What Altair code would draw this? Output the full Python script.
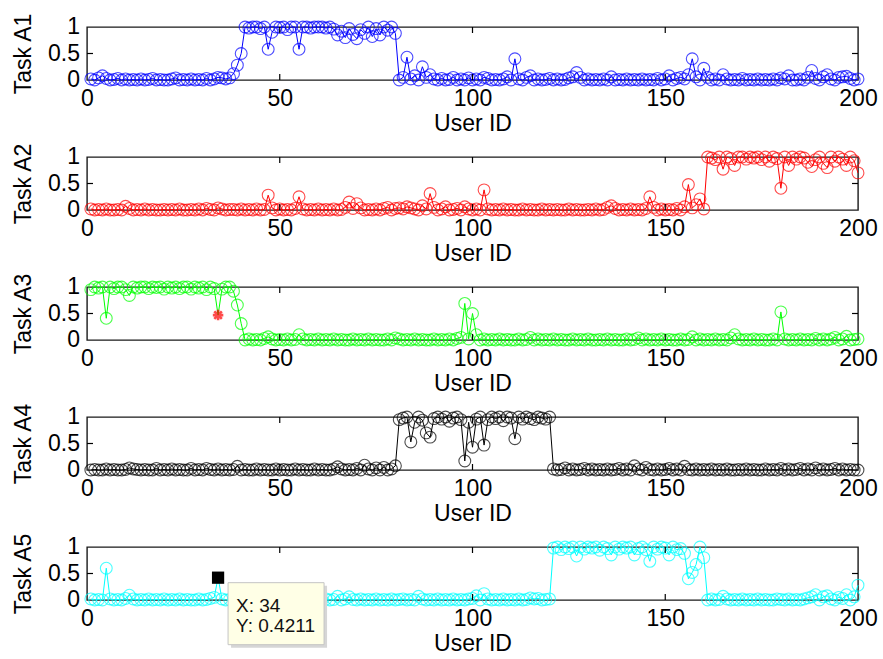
import altair as alt
import pandas as pd

# User IDs shared by all five task panels
user_ids = list(range(1, 201))

x_ticks = [0, 50, 100, 150, 200]
y_ticks = [0, 0.5, 1]

task_a1 = [
    0.02, 0.00, 0.04, 0.08, 0.03, 0.00, 0.01, 0.03, 0.00, 0.02, 0.00, 0.01, 0.00, 0.02, 0.00, 0.01, 0.03, 0.00, 0.01, 0.00,
    0.00, 0.02, 0.04, 0.00, 0.01, 0.00, 0.02, 0.00, 0.01, 0.00, 0.03, 0.00, 0.02, 0.05, 0.04, 0.02, 0.04, 0.12, 0.28, 0.50,
    1.00, 0.98, 1.00, 1.00, 0.97, 1.00, 0.58, 0.90, 1.00, 0.99, 1.00, 0.95, 1.00, 1.00, 0.58, 1.00, 1.00, 0.98, 1.00, 1.00,
    1.00, 0.98, 1.00, 0.96, 0.85, 0.92, 0.80, 0.97, 0.86, 0.78, 0.95, 0.88, 1.00, 0.82, 0.97, 0.85, 1.00, 0.94, 1.00, 0.88,
    0.00, 0.05, 0.43, 0.02, 0.08, 0.00, 0.25, 0.05, 0.10, 0.02, 0.00, 0.03, 0.00, 0.01, 0.05, 0.00, 0.02, 0.00, 0.04, 0.00,
    0.02, 0.00, 0.05, 0.03, 0.00, 0.01, 0.00, 0.02, 0.06, 0.00, 0.40, 0.02, 0.00, 0.05, 0.08, 0.00, 0.02, 0.00, 0.01, 0.03,
    0.00, 0.02, 0.00, 0.01, 0.04, 0.06, 0.14, 0.05, 0.00, 0.02, 0.00, 0.01, 0.00, 0.02, 0.00, 0.06, 0.00, 0.01, 0.00, 0.02,
    0.00, 0.01, 0.00, 0.02, 0.00, 0.01, 0.00, 0.03, 0.00, 0.02, 0.08, 0.00, 0.03, 0.05, 0.02, 0.10, 0.40, 0.06, 0.00, 0.22,
    0.05, 0.00, 0.02, 0.00, 0.10, 0.02, 0.00, 0.01, 0.00, 0.03, 0.00, 0.01, 0.00, 0.02, 0.00, 0.01, 0.00, 0.02, 0.00, 0.04,
    0.02, 0.08, 0.00, 0.00, 0.02, 0.00, 0.05, 0.18, 0.03, 0.00, 0.06, 0.10, 0.02, 0.00, 0.05, 0.06, 0.07, 0.03, 0.00, 0.02,
]

task_a2 = [
    0.02, 0.00, 0.01, 0.00, 0.02, 0.00, 0.00, 0.01, 0.00, 0.07, 0.03, 0.00, 0.01, 0.00, 0.02, 0.00, 0.01, 0.00, 0.00, 0.01,
    0.00, 0.01, 0.00, 0.02, 0.00, 0.00, 0.01, 0.00, 0.02, 0.00, 0.03, 0.01, 0.00, 0.04, 0.02, 0.00, 0.01, 0.01, 0.00, 0.02,
    0.00, 0.01, 0.00, 0.02, 0.00, 0.01, 0.28, 0.04, 0.00, 0.02, 0.00, 0.01, 0.00, 0.03, 0.25, 0.02, 0.00, 0.01, 0.00, 0.02,
    0.00, 0.01, 0.00, 0.02, 0.00, 0.01, 0.05, 0.15, 0.03, 0.12, 0.04, 0.00, 0.01, 0.00, 0.02, 0.00, 0.03, 0.05, 0.00, 0.03,
    0.04, 0.02, 0.06, 0.04, 0.02, 0.00, 0.08, 0.02, 0.31, 0.05, 0.00, 0.02, 0.06, 0.00, 0.01, 0.03, 0.00, 0.06, 0.02, 0.00,
    0.02, 0.00, 0.38, 0.02, 0.00, 0.01, 0.00, 0.02, 0.00, 0.01, 0.00, 0.00, 0.02, 0.00, 0.01, 0.00, 0.00, 0.02, 0.00, 0.01,
    0.00, 0.01, 0.00, 0.00, 0.02, 0.00, 0.01, 0.00, 0.00, 0.01, 0.00, 0.02, 0.00, 0.01, 0.05, 0.08, 0.03, 0.00, 0.01, 0.00,
    0.02, 0.00, 0.01, 0.00, 0.03, 0.25, 0.05, 0.00, 0.02, 0.00, 0.01, 0.00, 0.03, 0.00, 0.06, 0.48, 0.04, 0.10, 0.21, 0.02,
    1.00, 0.98, 0.95, 1.00, 0.77, 1.00, 0.97, 0.84, 1.00, 1.00, 0.96, 1.00, 0.98, 1.00, 0.95, 1.00, 0.92, 1.00, 0.97, 0.41,
    1.00, 0.84, 1.00, 0.96, 1.00, 0.98, 0.90, 0.82, 0.95, 1.00, 0.88, 0.80, 1.00, 0.92, 1.00, 0.96, 0.84, 1.00, 0.93, 0.70,
]

task_a3 = [
    0.95, 1.00, 0.98, 1.00, 0.41, 1.00, 0.97, 1.00, 1.00, 0.95, 0.84, 1.00, 0.98, 1.00, 1.00, 0.97, 1.00, 0.99, 1.00, 0.96,
    1.00, 0.98, 1.00, 0.97, 1.00, 1.00, 0.96, 1.00, 0.98, 1.00, 0.95, 1.00, 0.97, 0.47, 0.96, 1.00, 1.00, 0.92, 0.66, 0.31,
    0.00, 0.02, 0.00, 0.01, 0.00, 0.03, 0.06, 0.02, 0.00, 0.01, 0.00, 0.02, 0.00, 0.01, 0.10, 0.02, 0.00, 0.01, 0.00, 0.02,
    0.00, 0.01, 0.00, 0.02, 0.00, 0.01, 0.00, 0.00, 0.02, 0.00, 0.01, 0.00, 0.02, 0.00, 0.01, 0.00, 0.00, 0.02, 0.00, 0.04,
    0.02, 0.00, 0.01, 0.00, 0.02, 0.00, 0.01, 0.00, 0.00, 0.02, 0.00, 0.01, 0.00, 0.02, 0.00, 0.03, 0.05, 0.69, 0.02, 0.50,
    0.10, 0.00, 0.02, 0.00, 0.01, 0.00, 0.02, 0.00, 0.01, 0.00, 0.00, 0.02, 0.00, 0.01, 0.05, 0.00, 0.02, 0.00, 0.01, 0.00,
    0.02, 0.00, 0.01, 0.00, 0.00, 0.02, 0.00, 0.01, 0.00, 0.02, 0.00, 0.00, 0.01, 0.00, 0.02, 0.00, 0.01, 0.00, 0.00, 0.02,
    0.00, 0.01, 0.04, 0.00, 0.02, 0.00, 0.01, 0.00, 0.02, 0.00, 0.01, 0.00, 0.00, 0.02, 0.00, 0.01, 0.06, 0.00, 0.02, 0.00,
    0.01, 0.00, 0.02, 0.00, 0.01, 0.00, 0.04, 0.10, 0.02, 0.00, 0.01, 0.00, 0.02, 0.00, 0.01, 0.00, 0.00, 0.02, 0.00, 0.53,
    0.02, 0.00, 0.01, 0.00, 0.02, 0.00, 0.01, 0.00, 0.03, 0.00, 0.02, 0.00, 0.02, 0.05, 0.00, 0.02, 0.07, 0.00, 0.01, 0.02,
]

task_a4 = [
    0.00, 0.01, 0.00, 0.00, 0.02, 0.00, 0.01, 0.00, 0.00, 0.01, 0.04, 0.02, 0.01, 0.00, 0.01, 0.00, 0.00, 0.03, 0.00, 0.01,
    0.00, 0.02, 0.00, 0.01, 0.00, 0.00, 0.03, 0.00, 0.01, 0.00, 0.03, 0.01, 0.00, 0.02, 0.00, 0.01, 0.00, 0.01, 0.07, 0.00,
    0.01, 0.00, 0.00, 0.02, 0.00, 0.01, 0.00, 0.00, 0.02, 0.00, 0.01, 0.00, 0.00, 0.02, 0.00, 0.01, 0.00, 0.00, 0.02, 0.00,
    0.01, 0.00, 0.00, 0.02, 0.06, 0.02, 0.00, 0.01, 0.00, 0.03, 0.00, 0.09, 0.02, 0.00, 0.04, 0.00, 0.05, 0.00, 0.02, 0.08,
    0.95, 0.98, 1.00, 0.53, 0.90, 1.00, 0.94, 0.70, 0.62, 0.97, 1.00, 0.96, 1.00, 0.92, 0.98, 1.00, 0.95, 0.17, 0.90, 0.43,
    0.96, 1.00, 0.47, 0.95, 1.00, 0.97, 1.00, 0.93, 1.00, 0.98, 0.59, 1.00, 0.96, 1.00, 0.97, 0.95, 1.00, 0.98, 0.96, 1.00,
    0.02, 0.00, 0.01, 0.04, 0.00, 0.02, 0.00, 0.01, 0.03, 0.00, 0.02, 0.00, 0.01, 0.00, 0.02, 0.00, 0.01, 0.03, 0.00, 0.02,
    0.00, 0.08, 0.02, 0.00, 0.05, 0.01, 0.00, 0.02, 0.00, 0.01, 0.03, 0.00, 0.02, 0.00, 0.07, 0.01, 0.00, 0.02, 0.00, 0.01,
    0.00, 0.02, 0.00, 0.01, 0.00, 0.02, 0.00, 0.00, 0.01, 0.00, 0.02, 0.00, 0.01, 0.00, 0.00, 0.02, 0.00, 0.01, 0.00, 0.03,
    0.00, 0.02, 0.00, 0.01, 0.03, 0.00, 0.02, 0.00, 0.04, 0.00, 0.02, 0.00, 0.01, 0.03, 0.00, 0.02, 0.00, 0.01, 0.00, 0.00,
]

task_a5 = [
    0.02, 0.00, 0.01, 0.00, 0.60, 0.02, 0.00, 0.01, 0.00, 0.03, 0.09, 0.02, 0.00, 0.01, 0.00, 0.02, 0.00, 0.01, 0.00, 0.02,
    0.00, 0.01, 0.00, 0.02, 0.00, 0.01, 0.00, 0.00, 0.02, 0.00, 0.01, 0.03, 0.05, 0.4211, 0.02, 0.00, 0.01, 0.04, 0.00, 0.20,
    0.02, 0.00, 0.01, 0.00, 0.02, 0.00, 0.01, 0.00, 0.00, 0.02, 0.00, 0.01, 0.00, 0.02, 0.00, 0.01, 0.00, 0.02, 0.00, 0.01,
    0.00, 0.02, 0.00, 0.01, 0.07, 0.00, 0.02, 0.06, 0.01, 0.00, 0.02, 0.00, 0.01, 0.00, 0.02, 0.00, 0.01, 0.00, 0.02, 0.00,
    0.01, 0.02, 0.00, 0.01, 0.00, 0.07, 0.02, 0.00, 0.01, 0.00, 0.02, 0.00, 0.01, 0.00, 0.02, 0.00, 0.01, 0.00, 0.02, 0.03,
    0.08, 0.00, 0.12, 0.02, 0.00, 0.01, 0.00, 0.02, 0.00, 0.01, 0.00, 0.02, 0.00, 0.01, 0.04, 0.02, 0.03, 0.00, 0.01, 0.02,
    0.98, 1.00, 0.95, 1.00, 0.97, 1.00, 0.83, 1.00, 0.96, 1.00, 0.98, 1.00, 0.94, 1.00, 0.97, 0.85, 1.00, 0.96, 1.00, 0.98,
    1.00, 0.85, 0.97, 1.00, 0.95, 0.73, 1.00, 0.96, 1.00, 0.98, 0.85, 1.00, 0.95, 0.97, 0.88, 0.40, 0.52, 0.67, 1.00, 0.80,
    0.00, 0.02, 0.00, 0.01, 0.07, 0.02, 0.00, 0.01, 0.00, 0.02, 0.00, 0.01, 0.00, 0.02, 0.00, 0.01, 0.00, 0.00, 0.02, 0.01,
    0.00, 0.02, 0.00, 0.01, 0.00, 0.02, 0.04, 0.06, 0.10, 0.00, 0.06, 0.08, 0.02, 0.00, 0.05, 0.03, 0.10, 0.00, 0.06, 0.28,
]

task_titles = ["Task A1", "Task A2", "Task A3", "Task A4", "Task A5"]
task_colors = ["#0000FF", "#FF0000", "#00FF00", "#000000", "#00FFFF"]
task_values = [task_a1, task_a2, task_a3, task_a4, task_a5]

# Highlighted points: red asterisk on Task A3, data tip on Task A5
star_user, star_score = 34, 0.47
tip_user, tip_score = 34, 0.4211

W, H = 771, 53
FONT = "Liberation Sans"
FS = 23
ASTERISK = "M-1,0L1,0M0,-1L0,1M-0.72,-0.72L0.72,0.72M-0.72,0.72L0.72,-0.72"


def panel(idx):
    df = pd.DataFrame({"user": user_ids, "score": task_values[idx]})
    color = task_colors[idx]
    xenc = alt.X(
        "user:Q",
        scale=alt.Scale(domain=[0, 200], nice=False, zero=False),
        axis=alt.Axis(
            values=x_ticks, title="User ID", ticks=False, domain=False, grid=False,
            labelFlush=False, labelPadding=7, titlePadding=2, format="d",
        ),
    )
    # y tick labels are drawn as a text layer so that all three stay visible
    yenc = alt.Y(
        "score:Q",
        scale=alt.Scale(domain=[0, 1], nice=False, zero=False),
        axis=alt.Axis(
            title=task_titles[idx], labels=False, ticks=False, domain=False, grid=False,
            titlePadding=52,
        ),
    )
    base = alt.Chart(df)
    line = base.mark_line(color=color, strokeWidth=1, clip=False).encode(x=xenc, y=yenc)

    pts_src = base
    if idx == 2:
        pts_src = base.transform_filter(alt.datum.user != star_user)
    if idx == 4:
        pts_src = base.transform_filter(alt.datum.user != tip_user)
    pts = pts_src.mark_point(
        shape="circle", filled=False, size=140, strokeWidth=1.1, color=color, clip=False
    ).encode(x="user:Q", y="score:Q")

    ylab = alt.Chart(pd.DataFrame({"score": y_ticks})).mark_text(
        align="right", baseline="middle", dx=-7, font=FONT, fontSize=FS, color="#000000"
    ).encode(x=alt.value(0), y="score:Q", text=alt.Text("score:Q", format="~g"))

    # inward tick marks on all four sides
    xt = pd.DataFrame({"user": x_ticks[1:-1]})
    yt = pd.DataFrame({"score": [0.5]})
    rule = dict(color="black", strokeWidth=1.2)
    tb = alt.Chart(xt).mark_rule(**rule).encode(
        x="user:Q", y=alt.value(H), y2=alt.value(H - 6))
    tt = alt.Chart(xt).mark_rule(**rule).encode(
        x="user:Q", y=alt.value(0), y2=alt.value(6))
    tl = alt.Chart(yt).mark_rule(**rule).encode(
        y="score:Q", x=alt.value(0), x2=alt.value(6))
    tr = alt.Chart(yt).mark_rule(**rule).encode(
        y="score:Q", x=alt.value(W), x2=alt.value(W - 6))

    layers = [line, pts, ylab, tb, tt, tl, tr]

    if idx == 2:
        sdf = pd.DataFrame({"user": [star_user], "score": [star_score]})
        layers.append(
            alt.Chart(sdf).mark_point(
                shape=ASTERISK, size=110, stroke="#FF0000", strokeWidth=2.6, filled=False
            ).encode(x="user:Q", y="score:Q")
        )
    if idx == 4:
        tdf = pd.DataFrame({"user": [tip_user], "score": [tip_score]})
        tip = alt.Chart(tdf).transform_calculate(
            lx="'X: ' + datum.user", ly="'Y: ' + format(datum.score, '.4f')"
        )
        shadow = tip.mark_rect(
            fill="#D6D6D6", xOffset=13, x2Offset=109, yOffset=8, y2Offset=70
        ).encode(x="user:Q", x2="user:Q", y="score:Q", y2="score:Q")
        box = tip.mark_rect(
            fill="#FFFFE6", stroke="#C4C4C4", strokeWidth=1,
            xOffset=10, x2Offset=106, yOffset=5, y2Offset=67,
        ).encode(x="user:Q", x2="user:Q", y="score:Q", y2="score:Q")
        marker = tip.mark_square(size=150, color="#000000", opacity=1).encode(
            x="user:Q", y="score:Q")
        tx = tip.mark_text(
            align="left", baseline="alphabetic", dx=18, dy=34, font=FONT, fontSize=19, color="#111111"
        ).encode(x="user:Q", y="score:Q", text="lx:N")
        ty = tip.mark_text(
            align="left", baseline="alphabetic", dx=18, dy=54, font=FONT, fontSize=19, color="#111111"
        ).encode(x="user:Q", y="score:Q", text="ly:N")
        layers += [shadow, box, marker, tx, ty]

    return alt.layer(*layers).properties(width=W, height=H)


chart = alt.vconcat(*[panel(i) for i in range(5)], spacing=77, bounds="flush").properties(
    padding={"top": 11, "left": 11, "right": 5, "bottom": 5},
    background="white",
).configure_view(
    stroke="#1a1a1a", strokeWidth=1.4
).configure_axis(
    labelFont=FONT, labelFontSize=FS, labelColor="#000000",
    titleFont=FONT, titleFontSize=FS, titleColor="#000000", titleFontWeight="normal",
)

chart.save("out.html", embed_options={"renderer": "svg", "actions": False})
